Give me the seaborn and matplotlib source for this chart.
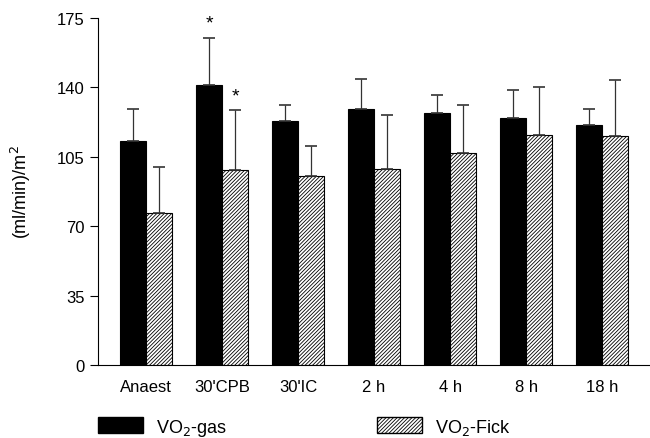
import numpy as np
import pandas as pd
import matplotlib.pyplot as plt
import matplotlib.patches as mpatches
import seaborn as sns

# values
times = ["Anaest", "30'CPB", "30'IC", "2 h", "4 h", "8 h", "18 h"]
vo2_gas = [113, 141, 123, 129, 127, 124.5, 121]
vo2_gas_sd = [16, 24, 8, 15, 9, 14, 8]
vo2_fick = [76.5, 98.5, 95.5, 99, 107, 116, 115.5]
vo2_fick_sd = [23.5, 30, 15, 27, 24, 24, 28]
star_gas = [False, True, False, False, False, False, False]
star_fick = [False, True, False, False, False, False, False]

df = pd.DataFrame({
    'time': times * 2,
    'value': vo2_gas + vo2_fick,
    'method': ['gas'] * len(times) + ['fick'] * len(times),
})

plt.rcParams['font.family'] = ['Liberation Sans', 'DejaVu Sans']
plt.rcParams['hatch.linewidth'] = 0.6
HATCH = '/////////'

fig = plt.figure(figsize=(6.5, 4.39), dpi=100)
ax = fig.add_axes([0.151, 0.1663, 0.849, 0.7904])

sns.barplot(data=df, x='time', y='value', hue='method', order=times,
            hue_order=['gas', 'fick'], palette=['black', 'white'],
            width=0.68, gap=0, errorbar=None, legend=False, ax=ax,
            edgecolor='black', linewidth=0.8, saturation=1)

n = len(times)
bars = ax.patches
for p in bars[:n]:
    p.set_facecolor('black')
for p in bars[n:2 * n]:
    p.set_facecolor('white')
    p.set_hatch(HATCH)

gas_x = [p.get_x() + p.get_width() / 2 for p in bars[:n]]
fick_x = [p.get_x() + p.get_width() / 2 for p in bars[n:2 * n]]

ax.errorbar(gas_x, vo2_gas, yerr=[np.zeros(n), vo2_gas_sd], fmt='none',
            ecolor='#333333', elinewidth=0.9, capsize=4, capthick=1.2)
ax.errorbar(fick_x, vo2_fick, yerr=[np.zeros(n), vo2_fick_sd], fmt='none',
            ecolor='#333333', elinewidth=0.9, capsize=4, capthick=1.2)

for xs, ys, sds, stars in [(gas_x, vo2_gas, vo2_gas_sd, star_gas),
                           (fick_x, vo2_fick, vo2_fick_sd, star_fick)]:
    for x, y, s, st in zip(xs, ys, sds, stars):
        if st:
            ax.text(x, y + s + 3, '*', ha='center', va='bottom', fontsize=14)

ax.set_xlim(-0.63, 6.63)
ax.set_ylim(0, 175)
ax.set_yticks([0, 35, 70, 105, 140, 175])
ax.tick_params(axis='y', direction='out', length=6, width=0.8, labelsize=12)
ax.tick_params(axis='x', length=0, labelsize=12, pad=10)
ax.spines['top'].set_visible(False)
ax.spines['right'].set_visible(False)
ax.set_xlabel('')
ax.set_ylabel('(ml/min)/m$^2$', fontsize=13)
ax.yaxis.set_label_coords(-0.118, 0.5)

h1 = mpatches.Patch(facecolor='black', edgecolor='black')
h2 = mpatches.Patch(facecolor='white', edgecolor='black', hatch=HATCH)
fig.legend([h1, h2], ['VO$_2$-gas', 'VO$_2$-Fick'], loc='center left',
           bbox_to_anchor=(0.1508, 0.025), ncol=2, frameon=False, fontsize=13,
           borderpad=0, borderaxespad=0,
           handlelength=2.5, handleheight=1.0, columnspacing=8.3,
           handletextpad=0.7)

fig.savefig('out.png', dpi=100)
